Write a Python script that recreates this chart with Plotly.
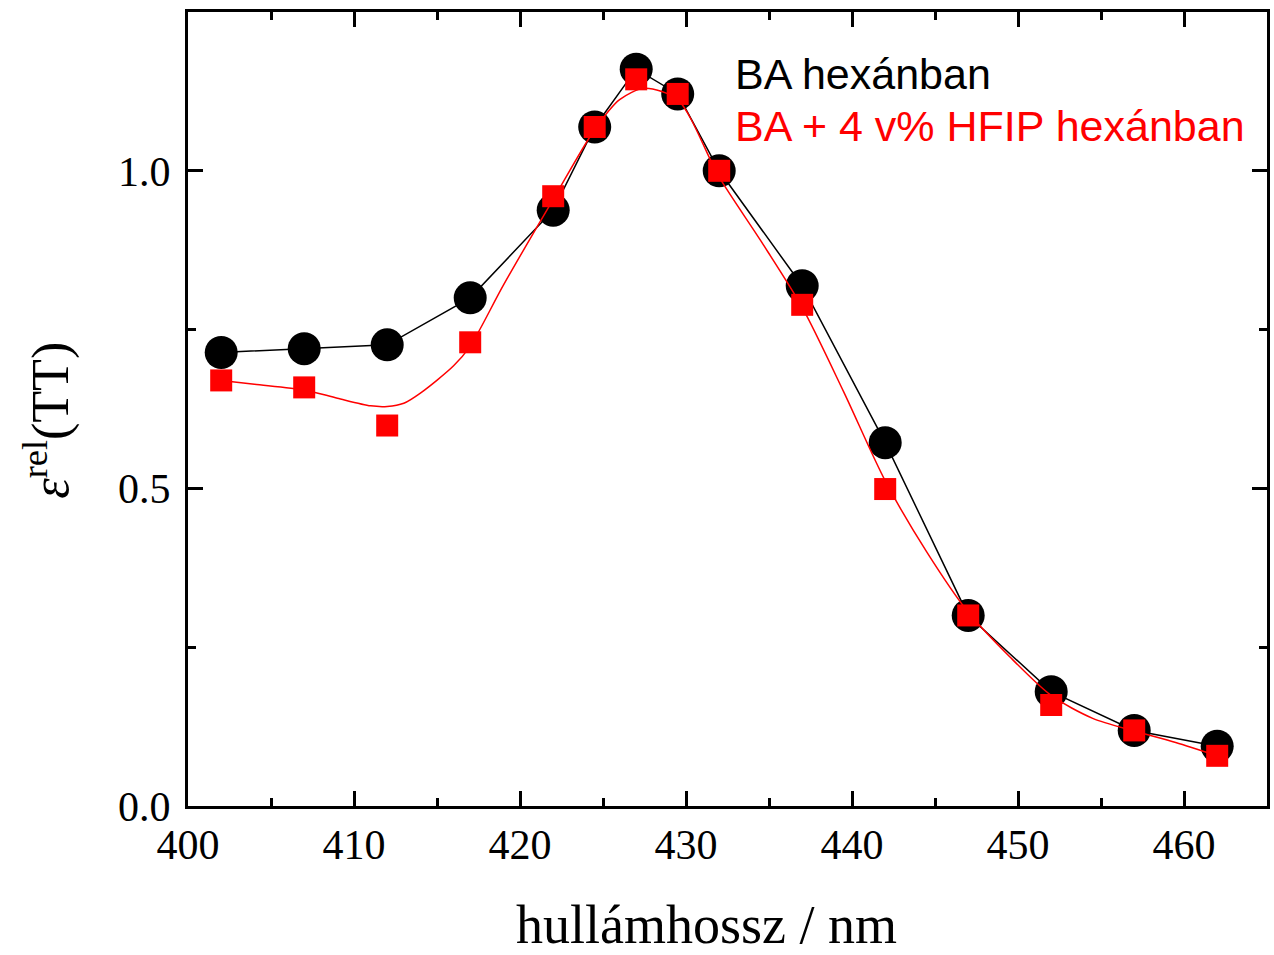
import plotly.graph_objects as go

# wavelengths (nm)
wl = [402, 407, 412, 417, 422, 424.5, 427, 429.5, 432, 437, 442, 447, 452, 457, 462]
# BA in hexane
ba_hex = [0.714, 0.720, 0.726, 0.800, 0.938, 1.069, 1.160, 1.121, 1.000, 0.819, 0.572, 0.300, 0.180, 0.119, 0.094]
# BA + 4 v% HFIP in hexane
ba_hfip = [0.670, 0.659, 0.599, 0.730, 0.960, 1.069, 1.144, 1.121, 1.000, 0.789, 0.499, 0.300, 0.159, 0.119, 0.079]
# smooth red curve
fit_x = [402, 404, 407, 409, 411, 412, 413, 414, 416, 417, 419, 422, 424.5, 426, 427.5,
         429.5, 432, 434.5, 437, 439.5, 442, 444.5, 447, 449.5, 452, 454.5, 457, 459.5, 462]
fit_y = [0.670, 0.664, 0.655, 0.642, 0.630, 0.629, 0.634, 0.650, 0.693, 0.724, 0.820, 0.955, 1.065, 1.112, 1.130,
         1.112, 0.990, 0.890, 0.785, 0.652, 0.512, 0.400, 0.305, 0.235, 0.174, 0.138, 0.118, 0.100, 0.079]

labels = ["BA hexánban", "BA + 4 v% HFIP hexánban"]

SERIF = "Liberation Serif"
SANS = "Liberation Sans"

fig = go.Figure()
fig.add_trace(go.Scatter(x=wl, y=ba_hex, mode="lines", line=dict(color="black", width=1.5),
                         showlegend=False, hoverinfo="skip"))
fig.add_trace(go.Scatter(x=wl, y=ba_hex, mode="markers", name=labels[0],
                         marker=dict(symbol="circle", size=33, color="black", line=dict(width=0)),
                         showlegend=False))
fig.add_trace(go.Scatter(x=fit_x, y=fit_y, mode="lines", line=dict(color="red", width=1.5, shape="spline", smoothing=0.8),
                         showlegend=False, hoverinfo="skip"))
fig.add_trace(go.Scatter(x=wl, y=ba_hfip, mode="markers", name=labels[1],
                         marker=dict(symbol="square", size=22, color="red", line=dict(width=0)),
                         showlegend=False))

axis_common = dict(
    showline=True, linecolor="black", linewidth=3, mirror="ticks",
    ticks="inside", ticklen=15, tickwidth=2.5, tickcolor="black",
    showgrid=False, zeroline=False,
    tickfont=dict(family=SERIF, size=42, color="black"),
)

fig.update_xaxes(range=[400, 465], dtick=10, tick0=400,
                 minor=dict(dtick=5, ticks="inside", ticklen=8, tickwidth=2.5, tickcolor="black"),
                 ticklabelstandoff=0, **axis_common)
fig.update_yaxes(range=[0, 1.25], dtick=0.5, tick0=0, tickformat=".1f",
                 minor=dict(dtick=0.25, ticks="inside", ticklen=8, tickwidth=2.5, tickcolor="black"),
                 ticklabelstandoff=6, **axis_common)

annotations = [
    dict(text="hullámhossz / nm", xref="paper", yref="paper", x=0.481, y=-0.150,
         xanchor="center", yanchor="middle", showarrow=False,
         font=dict(family=SERIF, size=54, color="black")),
    dict(text="<i>ε</i><sup>rel</sup>(TT)", xref="paper", yref="paper", x=-0.13, y=0.486,
         xanchor="center", yanchor="middle", showarrow=False, textangle=-90,
         font=dict(family=SERIF, size=52, color="black")),
    dict(text=labels[0], xref="paper", yref="paper", x=0.505, y=0.922,
         xanchor="left", yanchor="middle", showarrow=False,
         font=dict(family=SANS, size=43, color="black")),
    dict(text=labels[1], xref="paper", yref="paper", x=0.505, y=0.857,
         xanchor="left", yanchor="middle", showarrow=False,
         font=dict(family=SANS, size=43, color="red")),
]

fig.update_layout(
    width=1274, height=955,
    margin=dict(l=188, r=4, t=12, b=149),
    plot_bgcolor="white", paper_bgcolor="white",
    annotations=annotations,
    showlegend=False,
)

fig.write_html("out.html")
